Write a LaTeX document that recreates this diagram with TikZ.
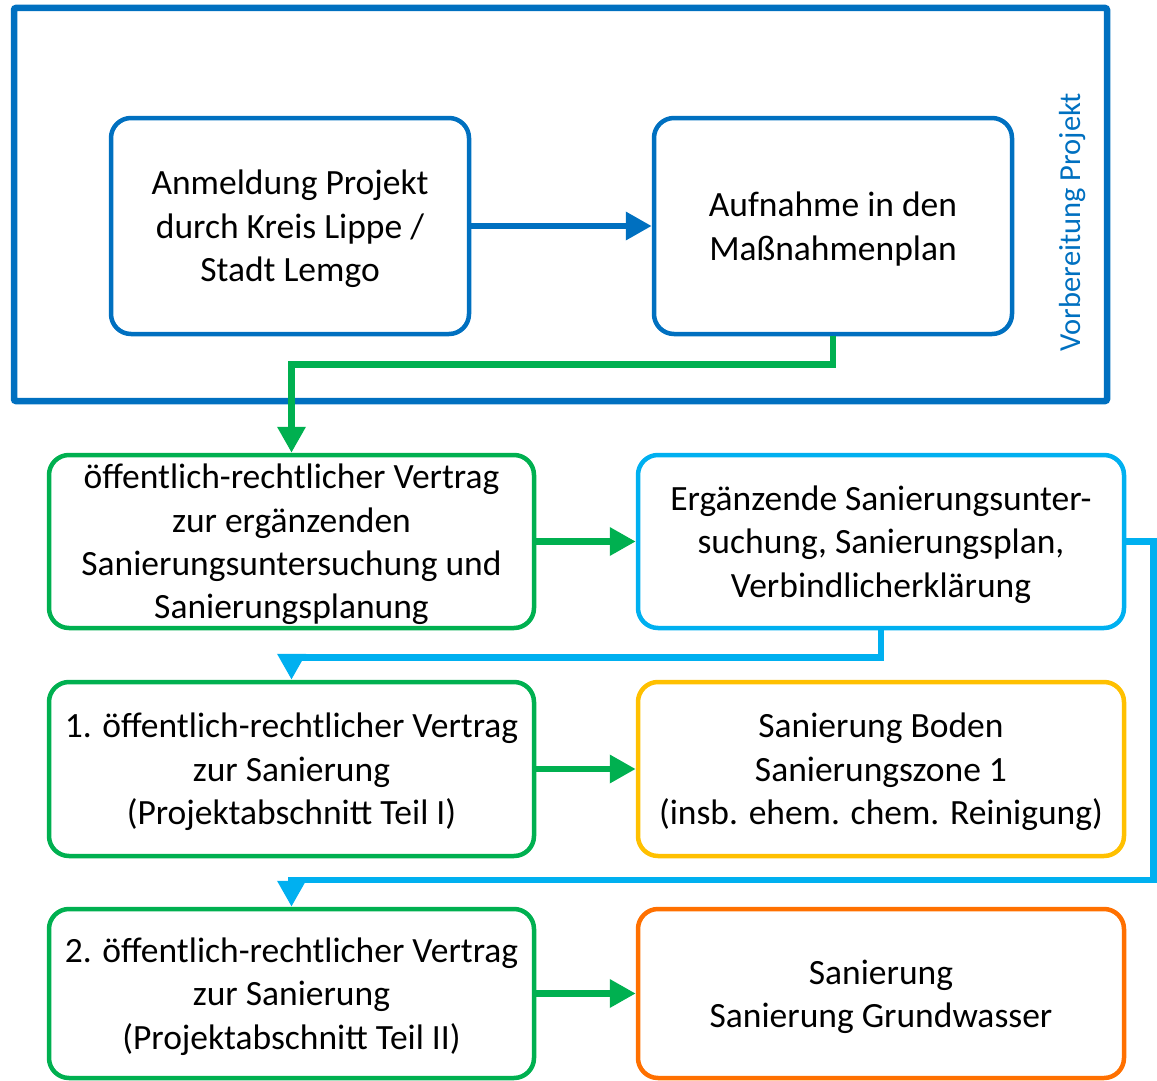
\documentclass[tikz,border=0pt]{standalone}
\usepackage{fontspec}
\setmainfont{Carlito}
\usetikzlibrary{arrows.meta,calc}
\definecolor{dblue}{HTML}{0070C0}
\definecolor{lgreen}{HTML}{00B050}
\definecolor{lblue}{HTML}{00B0F0}
\definecolor{gold}{HTML}{FFC000}
\definecolor{orng}{HTML}{FF7000}
\begin{document}
\begin{tikzpicture}[x=1pt,y=-1pt,
  box/.style={line width=4.5pt, rounded corners=20pt, inner sep=0pt},
  txt/.style={align=center, inner sep=0pt, text=black, yshift=-3pt,
    font=\fontsize{35.5}{43.3}\selectfont},
  conn/.style={line width=6.5pt, -{Triangle[length=26pt,width=27pt]}}]
\useasboundingbox (0,0) rectangle (1157,1081);
\draw[dblue, line width=6.5pt, rounded corners=2pt] (14,8) rectangle (1107,401);
\node[box, draw=dblue, minimum width=358pt, minimum height=216pt,
  label={[txt]center:{Anmeldung Projekt\\durch Kreis Lippe /\\Stadt Lemgo}}] (A) at (290,226) {};
\node[box, draw=dblue, minimum width=358pt, minimum height=216pt,
  label={[txt]center:{Aufnahme in den\\Maßnahmenplan}}] (B) at (833,226) {};
\node[rotate=90, text=dblue, font=\fontsize{30.5}{36}\selectfont] (V) at (1073,222) {Vorbereitung Projekt};
\node[box, draw=lgreen, minimum width=485pt, minimum height=173pt,
  label={[txt]center:{öffentlich-rechtlicher Vertrag\\zur ergänzenden\\Sanierungsuntersuchung und\\Sanierungsplanung}}] (C) at (291.5,541.5) {};
\node[box, draw=lblue, minimum width=486pt, minimum height=173pt,
  label={[txt]center:{Ergänzende Sanierungsunter-\\suchung, Sanierungsplan,\\Verbindlicherklärung}}] (D) at (881,541.5) {};
\node[box, draw=lgreen, minimum width=485pt, minimum height=174pt,
  label={[txt]center:{1. öffentlich-rechtlicher Vertrag\\zur Sanierung\\(Projektabschnitt Teil I)}}] (E) at (291.5,769) {};
\node[box, draw=gold, minimum width=486pt, minimum height=174pt,
  label={[txt]center:{Sanierung Boden\\Sanierungszone 1\\(insb. ehem. chem. Reinigung)}}] (F) at (881,769) {};
\node[box, draw=lgreen, minimum width=485pt, minimum height=169pt,
  label={[txt]center:{2. öffentlich-rechtlicher Vertrag\\zur Sanierung\\(Projektabschnitt Teil II)}}] (G) at (291.5,993.5) {};
\node[box, draw=orng, minimum width=486pt, minimum height=169pt,
  label={[txt]center:{Sanierung\\Sanierung Grundwasser}}] (H) at (881,993.5) {};
\draw[conn, dblue] (A.east) -- (B.west);
\draw[conn, lgreen] (B.south) -- ++(0,28) -| (C.north);
\draw[conn, lgreen] (C.east) -- (D.west);
\draw[conn, lblue] (D.south) -- ++(0,27) -| (E.north);
\draw[conn, lgreen] (E.east) -- (F.west);
\draw[conn, lblue] (D.east) -- ++(27,0) |- ([yshift=27pt]G.north) -- (G.north);
\draw[conn, lgreen] (G.east) -- (H.west);
\end{tikzpicture}
\end{document}
